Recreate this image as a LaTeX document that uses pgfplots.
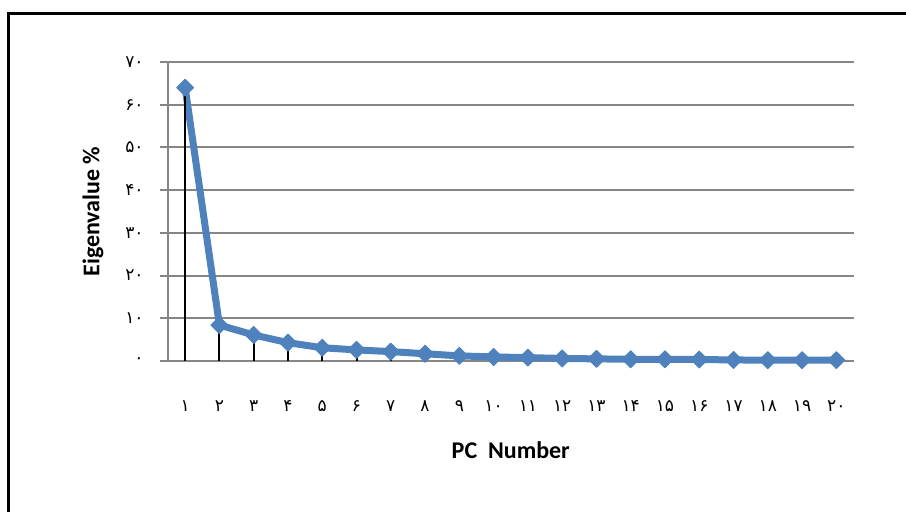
\documentclass[border=0pt]{standalone}
\usepackage{fontspec}
\setmainfont{Carlito}
\newfontfamily\fa[Script=Arabic]{DejaVu Sans}
\usepackage{pgfplots}
\usepackage{pgfplotstable}
\pgfplotsset{compat=1.18}

\definecolor{exblue}{HTML}{4F81BD}
\definecolor{exgrid}{HTML}{868686}

% eigenvalue share of each principal component
\pgfplotstableread{
pc ev
1  64.0
2  8.4
3  6.1
4  4.3
5  3.1
6  2.6
7  2.2
8  1.7
9  1.2
10 0.95
11 0.8
12 0.6
13 0.5
14 0.4
15 0.4
16 0.35
17 0.25
18 0.2
19 0.2
20 0.2
}\eig

\begin{document}
\begin{tikzpicture}
\useasboundingbox (0,0) rectangle (453pt,255.5pt);
\draw[line width=1.5pt] (4pt,-2pt) -- (4pt,249pt) -- (460pt,249pt);
\begin{axis}[
  at={(84pt,75pt)}, anchor=south west,
  scale only axis, width=342.75pt, height=149.5pt,
  xmin=0.5, xmax=20.5, ymin=0, ymax=70,
  clip=false,
  axis lines*=left,
  axis line style={draw=exgrid, line width=1pt, -},
  ymajorgrids, grid style={exgrid, line width=1pt},
  xtick={1,...,20},
  xticklabels={{\fa ۱},{\fa ۲},{\fa ۳},{\fa ۴},{\fa ۵},{\fa ۶},{\fa ۷},{\fa ۸},{\fa ۹},{\fa ۱۰},
               {\fa ۱۱},{\fa ۱۲},{\fa ۱۳},{\fa ۱۴},{\fa ۱۵},{\fa ۱۶},{\fa ۱۷},{\fa ۱۸},{\fa ۱۹},{\fa ۲۰}},
  ytick={0,10,...,70},
  yticklabels={{\fa ۰},{\fa ۱۰},{\fa ۲۰},{\fa ۳۰},{\fa ۴۰},{\fa ۵۰},{\fa ۶۰},{\fa ۷۰}},
  xtick style={draw=none},
  ytick style={draw=exgrid, line width=1pt},
  tick align=outside, major tick length=4pt,
  xticklabel style={font=\fontsize{8.5}{9}\selectfont, anchor=center, inner sep=0pt, yshift=-18.5pt},
  yticklabel style={font=\fontsize{8.5}{9}\selectfont, anchor=east, inner sep=0pt, xshift=-8pt},
  xlabel={PC\ \ Number},
  ylabel={Eigenvalue \%},
  label style={font=\fontsize{12}{14}\selectfont\bfseries},
  xlabel style={at={(axis description cs:0.5,0)}, anchor=center, yshift=-44.5pt},
  ylabel style={at={(axis description cs:0,0.5)}, anchor=center, rotate=0, yshift=37.5pt},
]
\addplot[exblue, line width=3.5pt, line join=round, mark=square*,
  mark size=3pt, mark options={rotate=45, fill=exblue, draw=exblue, line width=0.5pt}]
  table[x=pc, y=ev]{\eig};
\addplot[ycomb, black, line width=1pt, mark=none] table[x=pc, y=ev]{\eig};
\end{axis}
\end{tikzpicture}
\end{document}
